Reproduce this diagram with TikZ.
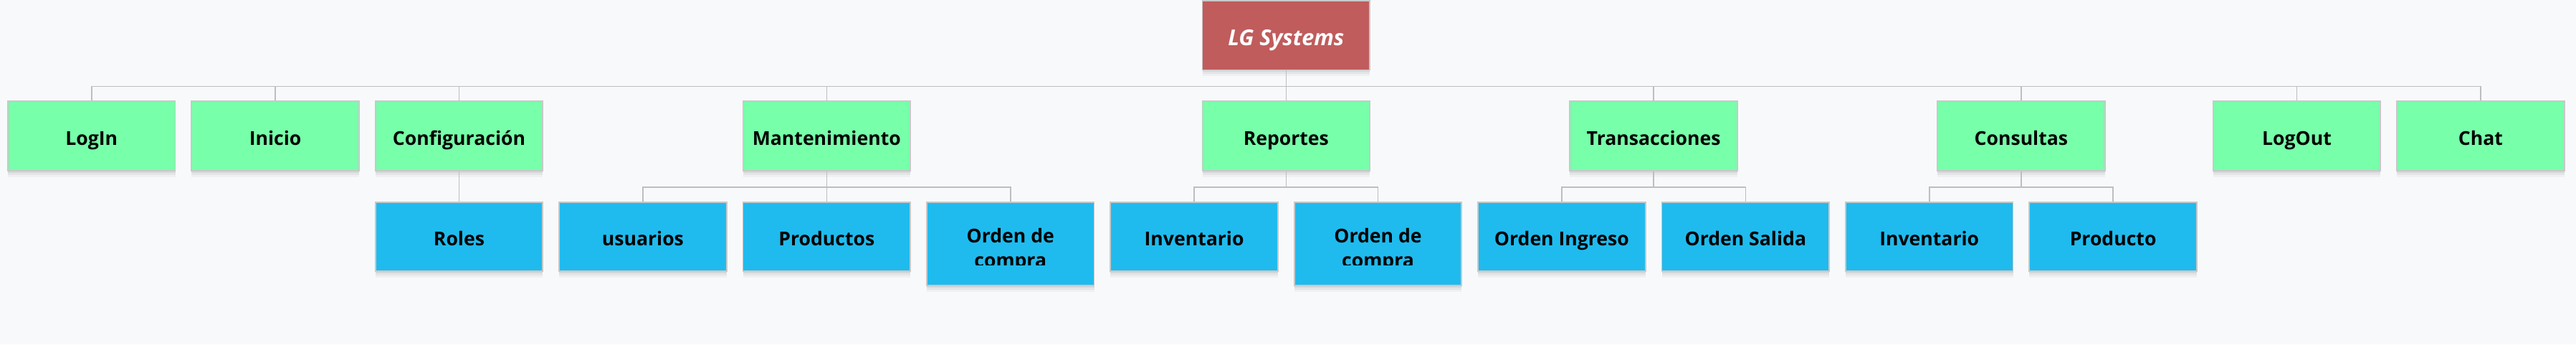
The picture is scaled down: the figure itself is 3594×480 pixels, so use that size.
\documentclass[tikz,border=0pt]{standalone}
\usepackage{fontspec}
\setmainfont{Open Sans}
\usepackage{tikz}
\usetikzlibrary{positioning, shadows}
\usepackage{xcolor}

\definecolor{canvas}{HTML}{F8F9FB}
\definecolor{rootred}{HTML}{C05C5C}
\definecolor{mintgreen}{HTML}{77FFAA}
\definecolor{skyblue}{HTML}{1FBBEE}
\definecolor{boxline}{HTML}{C8C8C8}
\definecolor{linkgray}{HTML}{BEBEBE}

\begin{document}
\begin{tikzpicture}[
  x=1pt, y=1pt,
  node distance=42pt and 21pt,
  box/.style={rectangle, draw=boxline, line width=1.8pt, minimum width=233.6pt, minimum height=96.6pt, inner sep=0pt, align=center, font=\fontsize{26.6}{33.5}\selectfont\bfseries, text height=28.6pt, text depth=3.6pt,
    drop shadow={shadow xshift=0pt, shadow yshift=-9pt, opacity=0.035, fill=black},
    drop shadow={shadow xshift=0pt, shadow yshift=-6pt, opacity=0.045, fill=black},
    drop shadow={shadow xshift=0pt, shadow yshift=-3pt, opacity=0.06, fill=black}},
  root/.style={box, fill=rootred, text=white, font=\fontsize{30.5}{36}\selectfont\bfseries\itshape, text height=32.6pt},
  menu/.style={box, fill=mintgreen},
  sub/.style={box, fill=skyblue},
  subtall/.style={sub, minimum height=116.6pt},
  boxtext/.style={inner sep=0pt, align=center, font=\fontsize{26.6}{33.5}\selectfont\bfseries},
  link/.style={draw=linkgray, line width=1.6pt}
]

\fill[canvas] (0,0) rectangle (3594,-480);
\useasboundingbox (0,0) rectangle (3594,-480);

% Menu row
\node[menu] at (640.5,-189.5) (config) {Configuración};
\node[menu, left=of config] (inicio) {Inicio};
\node[menu, left=of inicio] (login) {LogIn};

% Sub row
\node[sub, below=of config] (roles) {Roles};
\node[sub, right=of roles] (usuarios) {usuarios};
\node[sub, right=of usuarios] (productos) {Productos};
\node[subtall, right=of productos.north east, anchor=north west] (ordenA) {};
\node[sub, right=of ordenA.north east, anchor=north west] (inventA) {Inventario};
\node[subtall, right=of inventA.north east, anchor=north west] (ordenB) {};
\node[sub, right=of ordenB.north east, anchor=north west] (ingreso) {Orden Ingreso};
\node[sub, right=of ingreso] (salida) {Orden Salida};
\node[sub, right=of salida] (inventB) {Inventario};
\node[sub, right=of inventB] (producto) {Producto};

% Clipped two-line labels
\begin{scope}
  \clip (ordenA.north west) rectangle ([yshift=-88.6pt]ordenA.north east);
  \node[boxtext, anchor=north] (ordenAtext) at ([yshift=-37.5pt]ordenA.north) {Orden de\\compra};
\end{scope}
\begin{scope}
  \clip (ordenB.north west) rectangle ([yshift=-88.6pt]ordenB.north east);
  \node[boxtext, anchor=north] (ordenBtext) at ([yshift=-37.5pt]ordenB.north) {Orden de\\compra};
\end{scope}

% Remaining menu nodes
\path (inventA.north) -- (ordenB.north) coordinate[midway] (repmid);
\path (ingreso.north) -- (salida.north) coordinate[midway] (tramid);
\path (inventB.north) -- (producto.north) coordinate[midway] (conmid);
\node[menu, above=of productos] (mant) {Mantenimiento};
\node[menu, above=of repmid] (reportes) {Reportes};
\node[menu, above=of tramid] (trans) {Transacciones};
\node[menu, above=of conmid] (consultas) {Consultas};
\node[menu, above right=42pt and 21pt of producto.north east] (logout) {LogOut};
\node[menu, right=of logout] (chat) {Chat};

% Root
\node[root, above=of reportes] (lg) {LG Systems};

% Connections
\draw[link] (lg.south) -- ++(0,-22) -| (login.north);
\draw[link] (lg.south) -- ++(0,-22) -| (inicio.north);
\draw[link] (lg.south) -- ++(0,-22) -| (config.north);
\draw[link] (lg.south) -- ++(0,-22) -| (mant.north);
\draw[link] (lg.south) -- ++(0,-22) -| (reportes.north);
\draw[link] (lg.south) -- ++(0,-22) -| (trans.north);
\draw[link] (lg.south) -- ++(0,-22) -| (consultas.north);
\draw[link] (lg.south) -- ++(0,-22) -| (logout.north);
\draw[link] (lg.south) -- ++(0,-22) -| (chat.north);
\draw[link] (config.south) -- (roles.north);
\draw[link] (mant.south) -- ++(0,-22) -| (usuarios.north);
\draw[link] (mant.south) -- ++(0,-22) -| (productos.north);
\draw[link] (mant.south) -- ++(0,-22) -| (ordenA.north);
\draw[link] (reportes.south) -- ++(0,-22) -| (inventA.north);
\draw[link] (reportes.south) -- ++(0,-22) -| (ordenB.north);
\draw[link] (trans.south) -- ++(0,-22) -| (ingreso.north);
\draw[link] (trans.south) -- ++(0,-22) -| (salida.north);
\draw[link] (consultas.south) -- ++(0,-22) -| (inventB.north);
\draw[link] (consultas.south) -- ++(0,-22) -| (producto.north);

\end{tikzpicture}
\end{document}
